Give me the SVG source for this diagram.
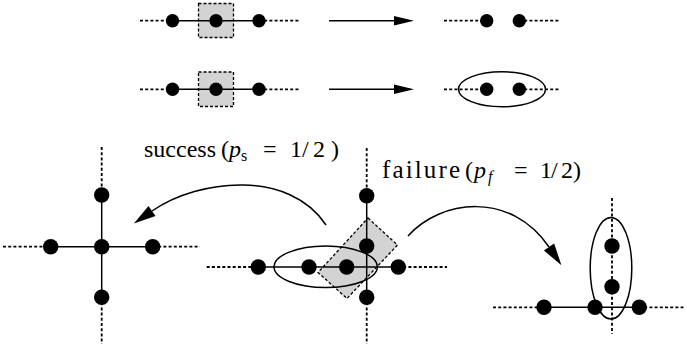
<svg xmlns="http://www.w3.org/2000/svg" width="687" height="354" viewBox="0 0 687 354">
<style>
.sol{stroke:#000;stroke-width:1.5;fill:none}
.dot{stroke:#000;stroke-width:1.8;stroke-dasharray:3 2.2;fill:none}
.gray{fill:#d3d3d3;stroke:#000;stroke-width:1.3;stroke-dasharray:3 2}
.ell{fill:none;stroke:#000;stroke-width:1.5}
.n{fill:#000}
</style>
<defs>
<marker id="ah" markerUnits="userSpaceOnUse" markerWidth="22" markerHeight="12" refX="0" refY="6" orient="auto" overflow="visible"><path d="M0,1.3 L20,6 L0,10.7 z" fill="#000"/></marker>
<marker id="ahL" markerUnits="userSpaceOnUse" markerWidth="24" markerHeight="14" refX="0" refY="7" orient="auto" overflow="visible"><path d="M0,0.8 L22,7 L0,13.2 z" fill="#000"/></marker>
</defs>
<g id="row1-left">
<rect class="gray" x="198.5" y="3.5" width="35" height="34"/>
<line class="dot" x1="140" y1="20.7" x2="172" y2="20.7"/>
<line class="dot" x1="259" y1="20.7" x2="300" y2="20.7"/>
<line class="sol" x1="172" y1="20.7" x2="259" y2="20.7"/>
<circle class="n" cx="172.5" cy="20.7" r="6.7"/>
<circle class="n" cx="216" cy="20.7" r="6.7"/>
<circle class="n" cx="259" cy="20.7" r="6.7"/>
</g>
<g id="row1-right">
<line class="dot" x1="444" y1="20.7" x2="487" y2="20.7"/>
<line class="dot" x1="519" y1="20.7" x2="560" y2="20.7"/>
<circle class="n" cx="486.7" cy="20.7" r="6.7"/>
<circle class="n" cx="519.3" cy="20.7" r="6.7"/>
</g>
<g id="row2-left">
<rect class="gray" x="198.5" y="72" width="35" height="34.5"/>
<line class="dot" x1="140" y1="89.3" x2="172" y2="89.3"/>
<line class="dot" x1="259" y1="89.3" x2="300" y2="89.3"/>
<line class="sol" x1="172" y1="89.3" x2="259" y2="89.3"/>
<circle class="n" cx="172.5" cy="89.3" r="6.7"/>
<circle class="n" cx="216" cy="89.3" r="6.7"/>
<circle class="n" cx="259" cy="89.3" r="6.7"/>
</g>
<g id="row2-right">
<line class="dot" x1="444" y1="89.3" x2="487" y2="89.3"/>
<line class="dot" x1="519" y1="89.3" x2="560" y2="89.3"/>
<ellipse class="ell" cx="502" cy="89.3" rx="43.5" ry="17.5"/>
<circle class="n" cx="486.7" cy="89.3" r="6.7"/>
<circle class="n" cx="519.3" cy="89.3" r="6.7"/>
</g>
<g id="cross-left">
<line class="dot" x1="101.7" y1="147" x2="101.7" y2="195"/>
<line class="dot" x1="101.7" y1="297" x2="101.7" y2="344"/>
<line class="dot" x1="3" y1="246.7" x2="51" y2="246.7"/>
<line class="dot" x1="153" y1="246.7" x2="200" y2="246.7"/>
<line class="sol" x1="50.7" y1="246.7" x2="152.7" y2="246.7"/>
<line class="sol" x1="101.7" y1="195" x2="101.7" y2="297.3"/>
<circle class="n" cx="101.7" cy="195" r="7.7"/>
<circle class="n" cx="50.7" cy="246.7" r="7.7"/>
<circle class="n" cx="101.7" cy="246.7" r="7.7"/>
<circle class="n" cx="152.7" cy="246.7" r="7.7"/>
<circle class="n" cx="101.7" cy="297.3" r="7.7"/>
</g>
<g id="center">
<polygon class="gray" points="368,218 397.5,245 347,298.5 318,272.5"/>
<line class="dot" x1="206.7" y1="267" x2="258" y2="267"/>
<line class="dot" x1="398" y1="267" x2="447" y2="267"/>
<line class="dot" x1="366.7" y1="148" x2="366.7" y2="196"/>
<line class="dot" x1="366.7" y1="297" x2="366.7" y2="344"/>
<line class="sol" x1="258.3" y1="267" x2="398.3" y2="267"/>
<line class="sol" x1="366.7" y1="195.7" x2="366.7" y2="297.3"/>
<ellipse class="ell" cx="325.7" cy="266.8" rx="51.7" ry="20.8"/>
<circle class="n" cx="258.3" cy="267" r="7.7"/>
<circle class="n" cx="309" cy="267" r="7.7"/>
<circle class="n" cx="346.7" cy="267" r="7.7"/>
<circle class="n" cx="398.3" cy="267" r="7.7"/>
<circle class="n" cx="366.7" cy="195.7" r="7.7"/>
<circle class="n" cx="366.7" cy="246" r="7.7"/>
<circle class="n" cx="366.7" cy="297.3" r="7.7"/>
</g>
<g id="right">
<line class="dot" x1="493" y1="307.3" x2="544" y2="307.3"/>
<line class="dot" x1="639" y1="307.3" x2="683.5" y2="307.3"/>
<line class="dot" x1="612" y1="198" x2="612" y2="334"/>
<line class="sol" x1="544" y1="307.3" x2="639.3" y2="307.3"/>
<ellipse class="ell" cx="611" cy="268.2" rx="20.8" ry="50.8"/>
<circle class="n" cx="544" cy="307.3" r="7.7"/>
<circle class="n" cx="595" cy="307.3" r="7.7"/>
<circle class="n" cx="639.3" cy="307.3" r="7.7"/>
<circle class="n" cx="612" cy="246" r="7.7"/>
<circle class="n" cx="612" cy="286.7" r="7.7"/>
</g>
<g id="connectors">
<line class="sol" x1="329" y1="20.7" x2="394" y2="20.7" marker-end="url(#ah)"/>
<line class="sol" x1="329" y1="89.3" x2="394" y2="89.3" marker-end="url(#ah)"/>
<path class="sol" d="M326,225 C290,170 200,178 152,211" marker-end="url(#ahL)"/>
<path class="sol" d="M408,236 C440,200 510,190 549,247" marker-end="url(#ahL)"/>
</g>
<g id="labels" font-family="Liberation Serif, Times New Roman, serif" font-size="24" fill="#000">
<text x="144" y="157">success</text>
<text x="221" y="157">(</text>
<text x="229" y="157" font-style="italic">p</text>
<text x="241" y="161" font-size="16">s</text>
<text x="263" y="157">=</text>
<text x="290" y="157">1</text>
<text x="302" y="157">/</text>
<text x="313" y="157">2</text>
<text x="331" y="157">)</text>
<text x="382" y="178" font-size="25" textLength="78" lengthAdjust="spacing">failure</text>
<text x="465" y="178">(</text>
<text x="474" y="178" font-style="italic">p</text>
<text x="488" y="182" font-size="16" font-style="italic">f</text>
<text x="514" y="178">=</text>
<text x="540" y="178">1</text>
<text x="551" y="178">/</text>
<text x="561" y="178">2</text>
<text x="573" y="178">)</text>
</g>
</svg>
